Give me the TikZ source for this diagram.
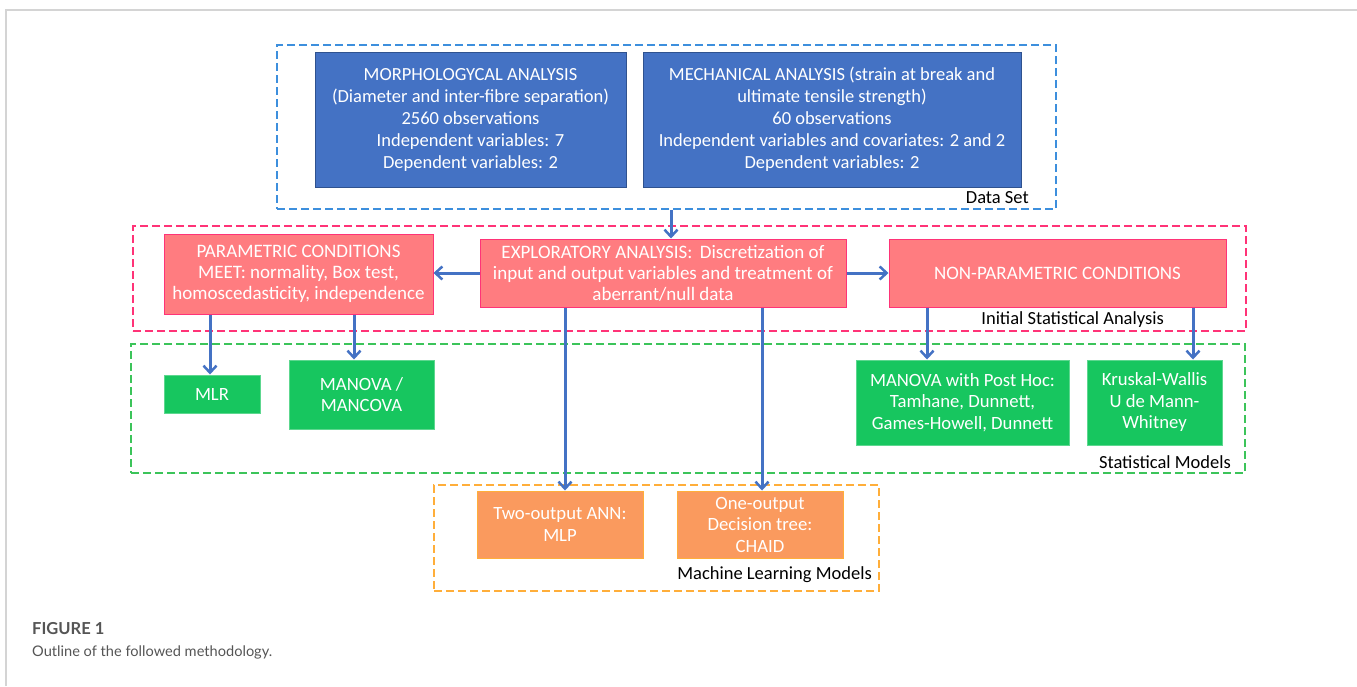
\documentclass[tikz,border=0pt]{standalone}
\usepackage{fontspec}
\setmainfont{Carlito}
\newfontfamily\capfont{Lato}
\usetikzlibrary{arrows.meta}
\definecolor{dblue}{HTML}{4472C4}
\definecolor{dblueb}{HTML}{2F528F}
\definecolor{pinkfill}{HTML}{FF7C80}
\definecolor{pinkb}{HTML}{FF3377}
\definecolor{gfill}{HTML}{17C65F}
\definecolor{gframe}{HTML}{3CC45A}
\definecolor{ofill}{HTML}{FA9A5E}
\definecolor{oframe}{HTML}{FFAE3A}
\definecolor{bframe}{HTML}{3D8FDD}
\definecolor{capgray}{HTML}{555555}
\definecolor{rule}{HTML}{D4D4D4}
\tikzset{
  bx/.style={rectangle, inner sep=0pt, align=center, text=white, font=\fontsize{19}{21}\selectfont},
  bluebox/.style={bx, fill=dblue, draw=dblueb, line width=1pt, font=\fontsize{18.5}{22}\selectfont},
  pinkbox/.style={bx, fill=pinkfill, draw=pinkb, line width=1pt},
  greenbox/.style={bx, fill=gfill, draw=gfill!70!white, line width=1pt, font=\fontsize{18.7}{21.5}\selectfont},
  orangebox/.style={bx, fill=ofill, draw=oframe, line width=1pt, font=\fontsize{18.7}{21.5}\selectfont},
  frame/.style={rectangle, inner sep=0pt, dashed, dash pattern=on 8pt off 4pt, line width=1.5pt},
  lbl/.style={inner sep=0pt, text=black, font=\fontsize{18.5}{20}\selectfont},
  arr/.style={draw=dblue, line width=3pt, -{Straight Barb[length=7pt,width=13pt,line width=2.5pt]}},
}
\begin{document}
\begin{tikzpicture}[x=1pt,y=-1pt]
\useasboundingbox (0,0) rectangle (1357,686);
\draw[rule, line width=2pt] (6,686) -- (6,10) -- (1357,10);

% frames
\node[frame, draw=bframe, minimum width=779pt, minimum height=164pt] (dsframe) at (666.5,127) {};
\node[frame, draw=pinkb, minimum width=1113pt, minimum height=105pt] (isframe) at (689.5,278.5) {};
\node[frame, draw=gframe, minimum width=1114pt, minimum height=129pt] (smframe) at (688,408.5) {};
\node[frame, draw=oframe, minimum width=445pt, minimum height=106pt] (mlframe) at (656.5,538) {};

% frame labels
\node[lbl, anchor=east] (dslbl) at (1029,198) {Data Set};
\node[lbl, anchor=east] (islbl) at (1164,320) {Initial Statistical Analysis};
\node[lbl, anchor=east] (smlbl) at (1231,462) {Statistical Models};
\node[lbl, anchor=east] (mllbl) at (872,575) {Machine Learning Models};

% data set boxes
\node[bluebox, minimum width=311pt, minimum height=135pt] (morph) at (470.5,119.5)
  {MORPHOLOGYCAL ANALYSIS\\(Diameter and inter-fibre separation)\\2560 observations\\Independent variables: 7\\Dependent variables: 2};
\node[bluebox, minimum width=378pt, minimum height=135pt] (mech) at (832,119.5)
  {MECHANICAL ANALYSIS (strain at break and\\ultimate tensile strength)\\60 observations\\Independent variables and covariates: 2 and 2\\Dependent variables: 2};

% initial statistical analysis
\node[pinkbox, minimum width=269pt, minimum height=80pt] (param) at (298.5,274)
  {PARAMETRIC CONDITIONS\\MEET: normality, Box test,\\homoscedasticity, independence};
\node[pinkbox, minimum width=366pt, minimum height=68pt] (explor) at (663,273)
  {EXPLORATORY ANALYSIS:\ \,Discretization of\\input and output variables and treatment of\\aberrant/null data};
\node[pinkbox, minimum width=337pt, minimum height=68pt] (nonpar) at (1057.5,273)
  {NON-PARAMETRIC CONDITIONS};

% statistical models
\node[greenbox, minimum width=96pt, minimum height=38pt] (mlr) at (212,394) {MLR};
\node[greenbox, minimum width=145pt, minimum height=69pt] (manova) at (361.5,394.5) {MANOVA /\\MANCOVA};
\node[greenbox, minimum width=213pt, minimum height=85pt] (posthoc) at (962.5,402.5)
  {MANOVA with Post Hoc:\\Tamhane, Dunnett,\\Games-Howell, Dunnett};
\node[greenbox, minimum width=135pt, minimum height=85pt] (kruskal) at (1154.5,402.5)
  {Kruskal-Wallis\\U de Mann-\\Whitney};

% machine learning
\node[orangebox, minimum width=166pt, minimum height=67pt] (ann) at (560,524.5) {Two-output ANN:\\MLP};
\node[orangebox, minimum width=166pt, minimum height=67pt] (tree) at (760,524.5) {One-output\\Decision tree:\\CHAID};

% arrows
\draw[arr] (dsframe.south -| 671,0) -- (explor.north -| 671,0);
\draw[arr] (explor.west) -- (explor.west -| param.east);
\draw[arr] (explor.east) -- (explor.east -| nonpar.west);
\draw[arr] (param.south -| 210,0) -- (mlr.north -| 210,0);
\draw[arr] (param.south -| 354,0) -- (manova.north -| 354,0);
\draw[arr] (nonpar.south -| 927,0) -- (posthoc.north -| 927,0);
\draw[arr] (nonpar.south -| 1193,0) -- (kruskal.north -| 1193,0);
\draw[arr] (explor.south -| 565,0) -- (ann.north -| 565,0);
\draw[arr] (explor.south -| 762,0) -- (tree.north -| 762,0);

% caption
\node[anchor=west, inner sep=0pt, text=capgray, font=\capfont\bfseries\fontsize{16.5}{19}\selectfont] (figlbl) at (32,629) {FIGURE 1};
\node[anchor=west, inner sep=0pt, text=capgray, font=\capfont\fontsize{14.6}{17}\selectfont] (caption) at (32,652) {Outline of the followed methodology.};
\end{tikzpicture}
\end{document}
